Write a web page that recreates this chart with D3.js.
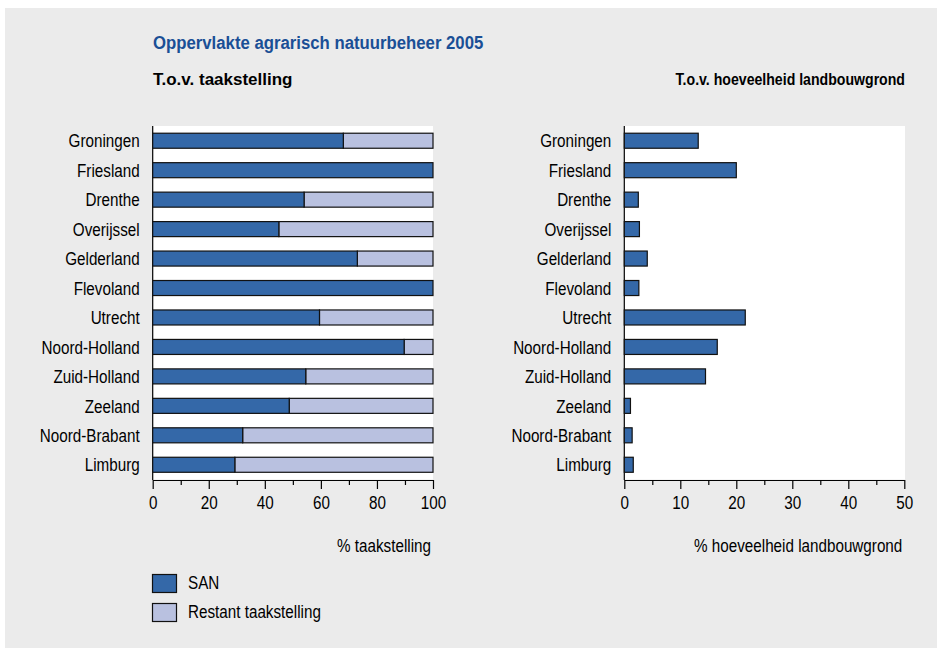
<!DOCTYPE html>
<html>
<head>
<meta charset="utf-8">
<script src="https://cdn.jsdelivr.net/npm/d3@7"></script>
<style>
  body { margin: 0; background: #fff; }
  svg text { font-family: "Liberation Sans Narrow", "Arial Narrow", "Liberation Sans", Arial, sans-serif; }
</style>
</head>
<body>
<div id="chart"></div>
<script>
// provincies, van boven naar beneden
var provinces = ["Groningen", "Friesland", "Drenthe", "Overijssel", "Gelderland", "Flevoland",
                 "Utrecht", "Noord-Holland", "Zuid-Holland", "Zeeland", "Noord-Brabant", "Limburg"];

// % van de taakstelling gerealiseerd (SAN)
var sanTaak = [68, 100, 54, 45, 73, 100, 59.5, 89.7, 54.6, 48.7, 32.1, 29.3];
// % van de hoeveelheid landbouwgrond
var sanGrond = [13.2, 20, 2.5, 2.7, 4.1, 2.6, 21.6, 16.6, 14.5, 1.1, 1.4, 1.6];

var taakTicks = [0, 20, 40, 60, 80, 100];
var taakMinor = [10, 30, 50, 70, 90];
var grondTicks = [0, 10, 20, 30, 40, 50];
var grondMinor = [5, 15, 25, 35, 45];

var legendLabels = ["SAN", "Restant taakstelling"];

var w = 937, h = 648;
var blue = "#3468a8", lightBlue = "#b9c1e0";
var fontSize = "17.5px";
var narrow = 0.87;   // geen Arial Narrow beschikbaar, dus tekst iets samendrukken

var svg = d3.select("#chart").append("svg")
    .attr("width", w)
    .attr("height", h);

function condense(sel, k) {
  sel.each(function() {
    var len = this.getComputedTextLength();
    d3.select(this).attr("textLength", len * k).attr("lengthAdjust", "spacingAndGlyphs");
  });
}

svg.append("rect")
    .attr("x", 5).attr("y", 8)
    .attr("width", w - 5).attr("height", h - 8)
    .attr("fill", "#ebebeb");

// titels
svg.append("text")
    .attr("x", 153).attr("y", 49)
    .attr("font-size", "18px").attr("font-weight", "bold")
    .attr("fill", "#1a4f96")
    .text("Oppervlakte agrarisch natuurbeheer 2005")
    .call(condense, 0.93);

svg.append("text")
    .attr("x", 153).attr("y", 85)
    .attr("font-size", "17px").attr("font-weight", "bold")
    .attr("fill", "#000")
    .text("T.o.v. taakstelling");

svg.append("text")
    .attr("x", 905).attr("y", 85)
    .attr("text-anchor", "end")
    .attr("font-size", "17px").attr("font-weight", "bold")
    .attr("fill", "#000")
    .text("T.o.v. hoeveelheid landbouwgrond")
    .call(condense, 0.83);

var plotTop = 126, plotBottom = 479.5;

var y = d3.scaleBand()
    .domain(provinces)
    .range([plotTop, plotBottom])
    .paddingInner(0.49)
    .paddingOuter(0.245);

function drawPanel(x0, x1, plotRight, max, ticks, minor, axisTitle) {
  var x = d3.scaleLinear().domain([0, max]).range([x0, x1]);
  var g = svg.append("g");

  g.append("rect")
    .attr("x", x0).attr("y", plotTop)
    .attr("width", plotRight - x0).attr("height", plotBottom - plotTop)
    .attr("fill", "#fff");

  // minor ticks
  g.append("g")
    .attr("transform", "translate(0," + (plotBottom + 0.5) + ")")
    .call(d3.axisBottom(x).tickValues(minor).tickSize(5).tickSizeOuter(0).tickFormat(""))
    .call(function(a) { a.select(".domain").remove(); })
    .selectAll("line").attr("stroke", "#000").attr("stroke-width", 1.2);

  var ax = g.append("g")
    .attr("transform", "translate(0," + (plotBottom + 0.5) + ")")
    .call(d3.axisBottom(x).tickValues(ticks).tickSize(9).tickSizeOuter(0).tickPadding(8));
  ax.attr("font-family", null).attr("font-size", null);
  ax.selectAll("text")
    .attr("font-size", fontSize)
    .attr("fill", "#000")
    .call(condense, narrow);
  ax.selectAll("line, path").attr("stroke", "#000").attr("stroke-width", 1.2);

  g.append("line")
    .attr("x1", x0).attr("x2", x0)
    .attr("y1", plotTop).attr("y2", plotBottom + 0.5)
    .attr("stroke", "#000").attr("stroke-width", 1.2);

  g.selectAll(".cat")
    .data(provinces)
    .enter()
    .append("text")
    .attr("class", "cat")
    .attr("x", x0 - 13)
    .attr("y", function(d) { return y(d) + y.bandwidth() / 2; })
    .attr("dy", "0.38em")
    .attr("text-anchor", "end")
    .attr("font-size", fontSize)
    .text(function(d) { return d; })
    .call(condense, narrow);

  g.append("text")
    .attr("x", x1 - 2).attr("y", 552)
    .attr("text-anchor", "end")
    .attr("font-size", fontSize)
    .text(axisTitle)
    .call(condense, narrow);

  return { g: g, x: x };
}

var left = drawPanel(152.7, 433, 433, 100, taakTicks, taakMinor, "% taakstelling");
var right = drawPanel(624.3, 904.3, 905, 50, grondTicks, grondMinor, "% hoeveelheid landbouwgrond");

// linker grafiek: SAN + restant
left.g.selectAll(".rest")
  .data(sanTaak)
  .enter()
  .append("rect")
  .attr("class", "rest")
  .attr("x", function(d) { return left.x(d); })
  .attr("y", function(d, i) { return y(provinces[i]); })
  .attr("width", function(d) { return left.x(100) - left.x(d); })
  .attr("height", y.bandwidth())
  .attr("fill", lightBlue)
  .attr("stroke", "#111").attr("stroke-width", 1.2);

left.g.selectAll(".san")
  .data(sanTaak)
  .enter()
  .append("rect")
  .attr("class", "san")
  .attr("x", left.x(0))
  .attr("y", function(d, i) { return y(provinces[i]); })
  .attr("width", function(d) { return left.x(d) - left.x(0); })
  .attr("height", y.bandwidth())
  .attr("fill", blue)
  .attr("stroke", "#111").attr("stroke-width", 1.2);

// rechter grafiek
right.g.selectAll(".san")
  .data(sanGrond)
  .enter()
  .append("rect")
  .attr("class", "san")
  .attr("x", right.x(0))
  .attr("y", function(d, i) { return y(provinces[i]); })
  .attr("width", function(d) { return right.x(d) - right.x(0); })
  .attr("height", y.bandwidth())
  .attr("fill", blue)
  .attr("stroke", "#111").attr("stroke-width", 1.2);

// legenda
var legend = svg.append("g");
var legendColors = [blue, lightBlue];
legend.selectAll("rect")
  .data(legendLabels)
  .enter()
  .append("rect")
  .attr("x", 152.5)
  .attr("y", function(d, i) { return 574.5 + i * 29; })
  .attr("width", 24).attr("height", 18)
  .attr("fill", function(d, i) { return legendColors[i]; })
  .attr("stroke", "#111").attr("stroke-width", 1.2);

legend.selectAll("text")
  .data(legendLabels)
  .enter()
  .append("text")
  .attr("x", 188)
  .attr("y", function(d, i) { return 589 + i * 29; })
  .attr("font-size", fontSize)
  .text(function(d) { return d; })
  .call(condense, narrow);
</script>
</body>
</html>
